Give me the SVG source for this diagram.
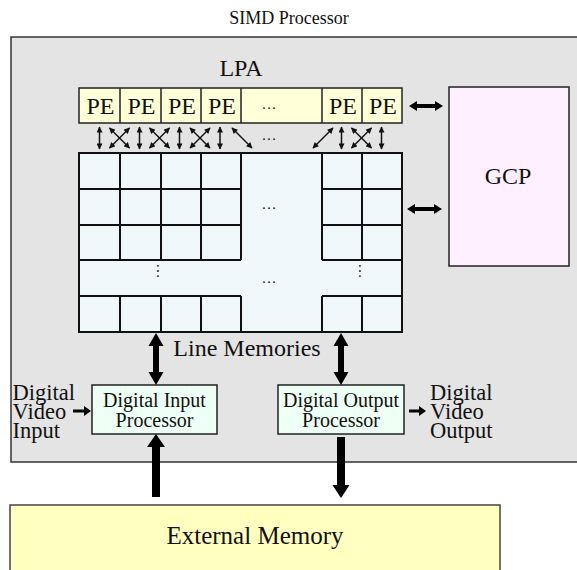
<svg xmlns="http://www.w3.org/2000/svg" width="577" height="570" viewBox="0 0 577 570">
<defs>
<style>
text{font-family:"Liberation Serif","Times New Roman",serif;fill:#111}
.box{stroke:#222;stroke-width:1.5}
.grid{stroke:#111;stroke-width:2;fill:none}
.thin{stroke:#111;stroke-width:1.5;fill:none;marker-start:url(#ah);marker-end:url(#ah)}
.fat{fill:#000}
</style>
<marker id="ah" viewBox="0 0 10 10" refX="9" refY="5" markerWidth="7" markerHeight="6" markerUnits="userSpaceOnUse" orient="auto-start-reverse"><path d="M0,0 L10,5 L0,10 z" fill="#111"/></marker>
</defs>
<g id="simd">
<rect x="11" y="37" width="580" height="425" fill="#e4e4e4" stroke="#333" stroke-width="1.5"/>
<text x="289" y="24" font-size="18" text-anchor="middle">SIMD Processor</text>
</g>
<g id="lpa">
<text x="241" y="76" font-size="24" text-anchor="middle">LPA</text>
<rect class="box" x="79" y="88" width="323" height="35" fill="#ffffd8"/>
<path d="M120,88V123M161,88V123M201,88V123M241,88V123M322,88V123M362,88V123" stroke="#222" stroke-width="1.5"/>
<g font-size="24" text-anchor="middle">
<text x="100.5" y="114">PE</text>
<text x="141.5" y="114">PE</text>
<text x="182" y="114">PE</text>
<text x="222" y="114">PE</text>
<text x="343" y="114">PE</text>
<text x="383" y="114">PE</text>
</g>
<text x="269" y="108.5" font-size="15" text-anchor="middle">…</text>
</g>
<g id="line-memories">
<rect x="79" y="153" width="323" height="179" fill="#f0f8fc"/>
<rect class="grid" x="79" y="153" width="323" height="179"/>
<path class="grid" d="M79,189H241M322,189H402M79,225H241M322,225H402M79,260H241M322,260H402M79,296H241M322,296H402M120,153V260M161,153V260M201,153V260M241,153V260M322,153V260M362,153V260M120,296V332M161,296V332M201,296V332M241,296V332M322,296V332M362,296V332"/>
<text x="269" y="208.5" font-size="15" text-anchor="middle">…</text>
<text x="269" y="282.5" font-size="15" text-anchor="middle">…</text>
<text x="157" y="271" font-size="15" text-anchor="middle" transform="rotate(90 157 271)">…</text>
<text x="359" y="271" font-size="15" text-anchor="middle" transform="rotate(90 359 271)">…</text>
<text x="247" y="356" font-size="24" text-anchor="middle">Line Memories</text>
</g>
<g id="gcp">
<rect class="box" x="449" y="87" width="120" height="179" fill="#fff0ff"/>
<text x="508" y="184" font-size="24" text-anchor="middle">GCP</text>
</g>
<g id="dip">
<rect class="box" x="92" y="385" width="125" height="49" fill="#eefff6"/>
<text x="154.5" y="406.7" font-size="20" text-anchor="middle">Digital Input</text>
<text x="154.5" y="426.7" font-size="20" text-anchor="middle">Processor</text>
</g>
<g id="dop">
<rect class="box" x="278" y="385" width="126" height="49" fill="#eefff6"/>
<text x="341" y="406.7" font-size="20" text-anchor="middle">Digital Output</text>
<text x="341" y="426.7" font-size="20" text-anchor="middle">Processor</text>
</g>
<g id="video-in" font-size="22.5">
<text x="12.5" y="400">Digital</text>
<text x="12.5" y="419">Video</text>
<text x="12.5" y="438">Input</text>
</g>
<g id="video-out" font-size="22.5">
<text x="430" y="400">Digital</text>
<text x="430" y="419">Video</text>
<text x="430" y="438">Output</text>
</g>
<g id="external-memory">
<rect x="10" y="505" width="490" height="80" fill="#ffffc0" stroke="#444" stroke-width="1.5"/>
<text x="255" y="544" font-size="25" text-anchor="middle">External Memory</text>
</g>
<g id="connectors">
<line class="thin" x1="99.5" y1="127" x2="99.5" y2="149"/>
<line class="thin" x1="139.5" y1="127" x2="139.5" y2="149"/>
<line class="thin" x1="179.5" y1="127" x2="179.5" y2="149"/>
<line class="thin" x1="220" y1="127" x2="220" y2="149"/>
<line class="thin" x1="341.5" y1="127" x2="341.5" y2="149"/>
<line class="thin" x1="381.5" y1="127" x2="381.5" y2="149"/>
<line class="thin" x1="109.5" y1="128" x2="129.5" y2="148"/>
<line class="thin" x1="109.5" y1="148" x2="129.5" y2="128"/>
<line class="thin" x1="149.5" y1="128" x2="169.5" y2="148"/>
<line class="thin" x1="149.5" y1="148" x2="169.5" y2="128"/>
<line class="thin" x1="190" y1="128" x2="210" y2="148"/>
<line class="thin" x1="190" y1="148" x2="210" y2="128"/>
<line class="thin" x1="351.5" y1="128" x2="371.5" y2="148"/>
<line class="thin" x1="351.5" y1="148" x2="371.5" y2="128"/>
<line class="thin" x1="232" y1="128" x2="252" y2="148"/>
<line class="thin" x1="313" y1="148" x2="333" y2="128"/>
<text x="269" y="139.5" font-size="15" text-anchor="middle">…</text>
<polygon class="fat" points="409,106 417,101 417,104 435,104 435,101 443,106 435,111 435,108 417,108 417,111"/>
<polygon class="fat" points="407,209 415,204 415,207 434,207 434,204 442,209 434,214 434,211 415,211 415,214"/>
<polygon class="fat" points="156,333 163.5,346 159,346 159,372 163.5,372 156,385 148.5,372 153,372 153,346 148.5,346"/>
<polygon class="fat" points="341,333 348.5,346 344,346 344,372 348.5,372 341,385 333.5,372 338,372 338,346 333.5,346"/>
<polygon class="fat" points="156,434 165,447 160,447 160,497 152,497 152,447 147,447"/>
<polygon class="fat" points="337,437 345,437 345,485 349.5,485 341,498 332.5,485 337,485"/>
<polygon class="fat" points="73,409.5 84,409.5 84,406 91,411 84,416 84,412.5 73,412.5"/>
<polygon class="fat" points="409,409.5 419,409.5 419,406 426,411 419,416 419,412.5 409,412.5"/>
</g>
</svg>
